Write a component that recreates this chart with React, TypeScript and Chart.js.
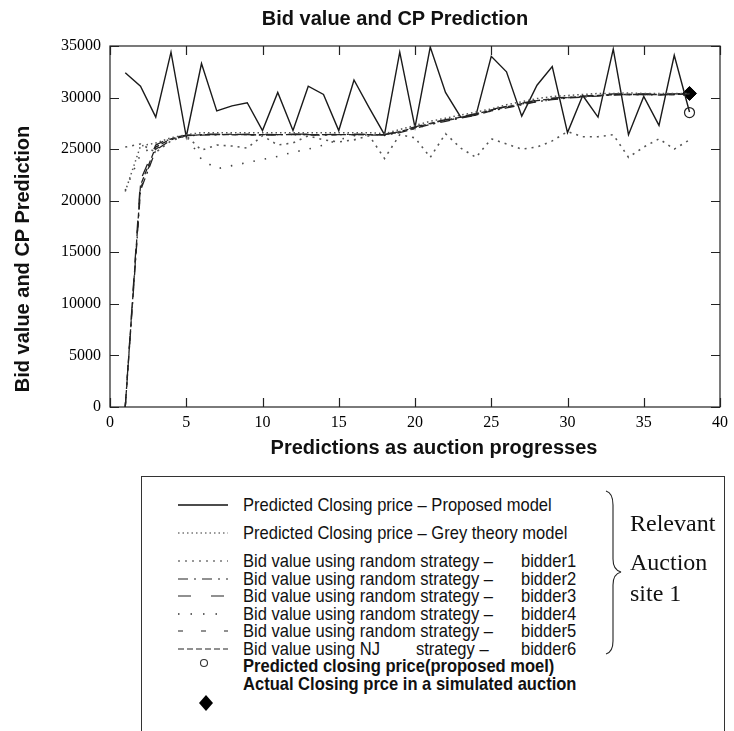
import React, { useEffect, useRef } from "react";
import { Chart, registerables } from "chart.js";

Chart.register(...registerables);

// ---------- data ----------
const X_VALUES = [1, 2, 3, 4, 5, 6, 7, 8, 9, 10, 11, 12, 13, 14, 15, 16, 17, 18, 19, 20, 21, 22, 23, 24, 25, 26, 27, 28, 29, 30, 31, 32, 33, 34, 35, 36, 37, 38];

const PROPOSED = [32400, 31100, 28100, 34400, 26200, 33300, 28700, 29200, 29500, 26800, 30500, 26800, 31100, 30300, 26800, 31700, 29000, 26400, 34400, 27100, 34900, 30500, 28100, 28300, 34000, 32500, 28200, 31200, 33000, 26600, 30200, 28100, 34700, 26400, 30100, 27300, 34100, 28600];

const GREY = [20900, 25300, 25600, 26100, 26400, 26600, 26600, 26600, 26600, 26600, 26600, 26600, 26600, 26600, 26600, 26600, 26600, 26500, 26900, 27300, 27700, 28000, 28300, 28600, 28900, 29300, 29600, 29900, 30100, 30200, 30300, 30400, 30400, 30450, 30400, 30400, 30400, 30400];

const BIDDER1 = [25200, 25500, 24700, 25800, 26300, 24900, 25400, 25300, 25100, 26300, 25400, 25600, 26300, 25900, 25700, 25900, 26300, 24100, 26400, 26100, 24200, 26500, 25100, 24200, 26000, 25500, 25000, 25200, 25800, 26700, 26200, 26200, 26400, 24200, 25200, 26000, 25000, 25900];

const BIDDER2 = [0, 21000, 24900, 25900, 26300, 26350, 26400, 26450, 26400, 26350, 26400, 26450, 26400, 26350, 26400, 26450, 26400, 26350, 26600, 27000, 27400, 27700, 28000, 28300, 28700, 29000, 29300, 29600, 29800, 29950, 30050, 30150, 30250, 30300, 30300, 30250, 30300, 30350];

const BIDDER3 = [0, 22000, 25400, 26100, 26350, 26450, 26450, 26400, 26450, 26450, 26400, 26450, 26450, 26400, 26450, 26400, 26450, 26400, 26750, 27150, 27550, 27850, 28150, 28450, 28850, 29150, 29450, 29750, 29950, 30050, 30150, 30250, 30350, 30350, 30350, 30350, 30350, 30400];

const BIDDER4 = [21000, 24500, 25400, 26000, 26300, 24000, 23100, 23400, 23700, 24000, 24300, 24700, 25000, 25400, 25900, 26300, 26400, 26400, 26700, 27000, 27400, 27800, 28100, 28400, 28700, 29100, 29400, 29600, 29800, 30000, 30100, 30200, 30300, 30300, 30300, 30300, 30300, 30200];

const BIDDER5 = [0, 21200, 25000, 25950, 26300, 26400, 26400, 26400, 26350, 26400, 26400, 26400, 26350, 26400, 26400, 26400, 26350, 26400, 26650, 27050, 27450, 27750, 28050, 28350, 28750, 29050, 29350, 29650, 29850, 30000, 30100, 30200, 30300, 30300, 30300, 30300, 30300, 30350];

const BIDDER6 = [0, 21500, 25200, 26000, 26300, 26400, 26400, 26400, 26400, 26400, 26400, 26400, 26400, 26400, 26400, 26400, 26400, 26400, 26700, 27100, 27500, 27800, 28100, 28400, 28800, 29100, 29400, 29700, 29900, 30000, 30100, 30200, 30300, 30300, 30300, 30300, 30300, 30400];

const PREDICTED_CP_X = [38];
const PREDICTED_CP_Y = [28550];
const ACTUAL_CP_X = [38];
const ACTUAL_CP_Y = [30400];

const X_MIN = 0;
const X_MAX = 40;
const X_STEP = 5;
const Y_MIN = 0;
const Y_MAX = 35000;
const Y_STEP = 5000;

const TITLE = "Bid value and CP Prediction";
const X_TITLE = "Predictions as auction progresses";
const Y_TITLE = "Bid value and CP Prediction";

const LEGEND_LABELS = [
  "Predicted Closing price \u2013 Proposed model",
  "Predicted Closing price \u2013 Grey theory model",
  "Bid value using random strategy \u2013",
  "Bid value using random strategy \u2013",
  "Bid value using random strategy \u2013",
  "Bid value using random strategy \u2013",
  "Bid value using random strategy \u2013",
  "Bid value using NJ",
  "Predicted closing price(proposed moel)",
  "Actual Closing prce in a simulated auction",
];
const BIDDER_NAMES = ["bidder1", "bidder2", "bidder3", "bidder4", "bidder5", "bidder6"];
const SITE_LINES = ["Relevant", "Auction", "site 1"];

// ---------- styles ----------
const SANS = "'Liberation Sans', Arial, Helvetica, sans-serif";
const SERIF = "'Liberation Serif', 'Times New Roman', serif";

const DASH = {
  grey: [1.5, 3],
  b1: [2, 5],
  b2: [10, 5, 2, 5],
  b3: [13, 16],
  b4: [1.5, 10],
  b5: [5, 15],
  b6: [6, 3],
};

function pts(ys: number[], xs: number[] = X_VALUES) {
  return ys.map((y, i) => ({ x: xs[i], y }));
}

const framePlugin = {
  id: "frameTicks",
  beforeDatasetsDraw(chart: any) {
    const { ctx, chartArea: a, scales } = chart;
    ctx.save();
    ctx.strokeStyle = "#222";
    ctx.lineWidth = 1.2;
    ctx.strokeRect(a.left, a.top, a.right - a.left, a.bottom - a.top);
    const tl = 9;
    ctx.beginPath();
    scales.x.ticks.forEach((t: any) => {
      const px = Math.round(scales.x.getPixelForValue(t.value)) + 0.5;
      ctx.moveTo(px, a.bottom);
      ctx.lineTo(px, a.bottom - tl);
      ctx.moveTo(px, a.top);
      ctx.lineTo(px, a.top + tl);
    });
    scales.y.ticks.forEach((t: any) => {
      const py = Math.round(scales.y.getPixelForValue(t.value)) + 0.5;
      ctx.moveTo(a.left, py);
      ctx.lineTo(a.left + tl, py);
      ctx.moveTo(a.right, py);
      ctx.lineTo(a.right - tl, py);
    });
    ctx.stroke();
    ctx.restore();
  },
};

function lineDs(label: string, ys: number[], color: string, width: number, dash: number[]) {
  return {
    label,
    data: pts(ys),
    borderColor: color,
    borderWidth: width,
    borderDash: dash,
    pointRadius: 0,
    fill: false,
    tension: 0,
  };
}

function Sample({ dash, color, width }: { dash?: number[]; color: string; width: number }) {
  return (
    <svg width={56} height={8} style={{ position: "absolute", left: 176, top: -4, overflow: "visible" }}>
      <line x1={2} y1={4} x2={52} y2={4} stroke={color} strokeWidth={width} strokeDasharray={dash ? dash.join(" ") : undefined} />
    </svg>
  );
}

export default function App() {
  const canvasRef = useRef<HTMLCanvasElement>(null);

  useEffect(() => {
    if (!canvasRef.current) return;
    const chart = new Chart(canvasRef.current, {
      type: "line",
      data: {
        datasets: [
          lineDs(LEGEND_LABELS[1], GREY, "#555", 1.5, DASH.grey),
          lineDs(LEGEND_LABELS[2], BIDDER1, "#555", 1.6, DASH.b1),
          lineDs(LEGEND_LABELS[3], BIDDER2, "#222", 1.3, DASH.b2),
          lineDs(LEGEND_LABELS[4], BIDDER3, "#222", 1.3, DASH.b3),
          lineDs(LEGEND_LABELS[5], BIDDER4, "#444", 1.6, DASH.b4),
          lineDs(LEGEND_LABELS[6], BIDDER5, "#333", 1.3, DASH.b5),
          lineDs(LEGEND_LABELS[7], BIDDER6, "#222", 1.3, DASH.b6),
          lineDs(LEGEND_LABELS[0], PROPOSED, "#1a1a1a", 1.4, []),
          {
            label: LEGEND_LABELS[8],
            data: pts(PREDICTED_CP_Y, PREDICTED_CP_X),
            showLine: false,
            pointStyle: "circle",
            pointRadius: 5,
            pointBackgroundColor: "#fff",
            pointBorderColor: "#222",
            pointBorderWidth: 1.2,
          },
          {
            label: LEGEND_LABELS[9],
            data: pts(ACTUAL_CP_Y, ACTUAL_CP_X),
            showLine: false,
            pointStyle: "rectRot",
            pointRadius: 7,
            pointBackgroundColor: "#000",
            pointBorderColor: "#000",
            pointBorderWidth: 1,
          },
        ] as any,
      },
      options: {
        responsive: false,
        animation: false,
        layout: { padding: { top: 46, right: 13, left: 0, bottom: 0 } },
        plugins: {
          legend: { display: false },
          title: { display: false },
          tooltip: { enabled: false },
        },
        scales: {
          x: {
            type: "linear",
            min: X_MIN,
            max: X_MAX,
            grid: { display: false, drawTicks: false },
            border: { display: false },
            ticks: {
              stepSize: X_STEP,
              padding: 6,
              color: "#000",
              font: { family: SERIF, size: 16 },
              callback: (v: any) => String(v),
            },
            afterFit: (s: any) => {
              s.height = 63;
            },
          },
          y: {
            type: "linear",
            min: Y_MIN,
            max: Y_MAX,
            grid: { display: false, drawTicks: false },
            border: { display: false },
            ticks: {
              stepSize: Y_STEP,
              padding: 9,
              color: "#000",
              font: { family: SERIF, size: 16 },
              callback: (v: any) => String(v),
            },
            afterFit: (s: any) => {
              s.width = 110;
            },
          },
        },
      } as any,
      plugins: [framePlugin],
    });
    return () => chart.destroy();
  }, []);

  const legendText: React.CSSProperties = {
    position: "absolute",
    left: 243,
    top: -11,
    height: 22,
    lineHeight: "22px",
    fontFamily: SANS,
    fontSize: 19,
    whiteSpace: "nowrap",
    transform: "scaleX(0.87)",
    transformOrigin: "left center",
    color: "#111",
  };

  const rowY = [505, 533, 561, 578.5, 596, 613.5, 631, 648.5, 666, 683.5];
  const samples: { dash?: number[]; color: string; width: number }[] = [
    { color: "#111", width: 1.3 },
    { dash: [1.5, 3], color: "#333", width: 1.2 },
    { dash: [2, 5], color: "#333", width: 1.2 },
    { dash: [10, 6, 2, 6], color: "#222", width: 1.2 },
    { dash: [13, 20], color: "#222", width: 1.2 },
    { dash: [1.5, 11], color: "#333", width: 1.4 },
    { dash: [5, 18], color: "#222", width: 1.2 },
    { dash: [6, 3], color: "#222", width: 1.2 },
  ];

  return (
    <div style={{ position: "absolute", left: 0, top: 0, width: 734, height: 731, overflow: "hidden", background: "#fff" }}>
      <canvas ref={canvasRef} width={734} height={470} style={{ position: "absolute", left: 0, top: 0, width: 734, height: 470 }} />

      <div style={{ position: "absolute", left: 195, top: 6, width: 400, textAlign: "center", fontFamily: SANS, fontWeight: "bold", fontSize: 20, lineHeight: "24px", color: "#111", whiteSpace: "nowrap" }}>
        {TITLE}
      </div>
      <div style={{ position: "absolute", left: 234, top: 435, width: 400, textAlign: "center", fontFamily: SANS, fontWeight: "bold", fontSize: 20, lineHeight: "24px", color: "#111", whiteSpace: "nowrap" }}>
        {X_TITLE}
      </div>
      <div style={{ position: "absolute", left: 22 - 160, top: 259 - 12, width: 320, textAlign: "center", fontFamily: SANS, fontWeight: "bold", fontSize: 20, lineHeight: "24px", color: "#111", whiteSpace: "nowrap", transform: "rotate(-90deg)", transformOrigin: "center center" }}>
        {Y_TITLE}
      </div>

      {/* legend box */}
      <div style={{ position: "absolute", left: 141, top: 476, width: 584, height: 300, border: "1.2px solid #333", boxSizing: "border-box" }} />

      {rowY.map((y, i) => (
        <div key={i} style={{ position: "absolute", left: 0, top: y, width: 734, height: 0 }}>
          {i < 8 ? <Sample {...samples[i]} /> : null}
          <div style={{ ...legendText, fontWeight: i >= 8 ? "bold" : "normal" }}>{LEGEND_LABELS[i]}</div>
          {i === 7 ? <div style={{ ...legendText, left: 416 }}>strategy {"\u2013"}</div> : null}
          {i >= 2 && i <= 7 ? <div style={{ ...legendText, left: 521 }}>{BIDDER_NAMES[i - 2]}</div> : null}
        </div>
      ))}
      {/* legend markers */}
      <svg width={734} height={731} style={{ position: "absolute", left: 0, top: 0, pointerEvents: "none" }}>
        <circle cx={204} cy={663} r={3.5} fill="#fff" stroke="#333" strokeWidth={1.1} />
        <polygon points="206,695 213,703 206,711 199,703" fill="#000" />
        <path d="M606,491 Q613,493 613,505 L613,559 Q613,570 621,572 Q613,574 613,585 L613,641 Q613,652 606,654" fill="none" stroke="#222" strokeWidth={1.1} />
      </svg>
      {SITE_LINES.map((t, i) => (
        <div key={t} style={{ position: "absolute", left: 630, top: [523, 562, 593][i] - 14, height: 28, lineHeight: "28px", fontFamily: SERIF, fontSize: 24, color: "#111", whiteSpace: "nowrap" }}>
          {t}
        </div>
      ))}
    </div>
  );
}
